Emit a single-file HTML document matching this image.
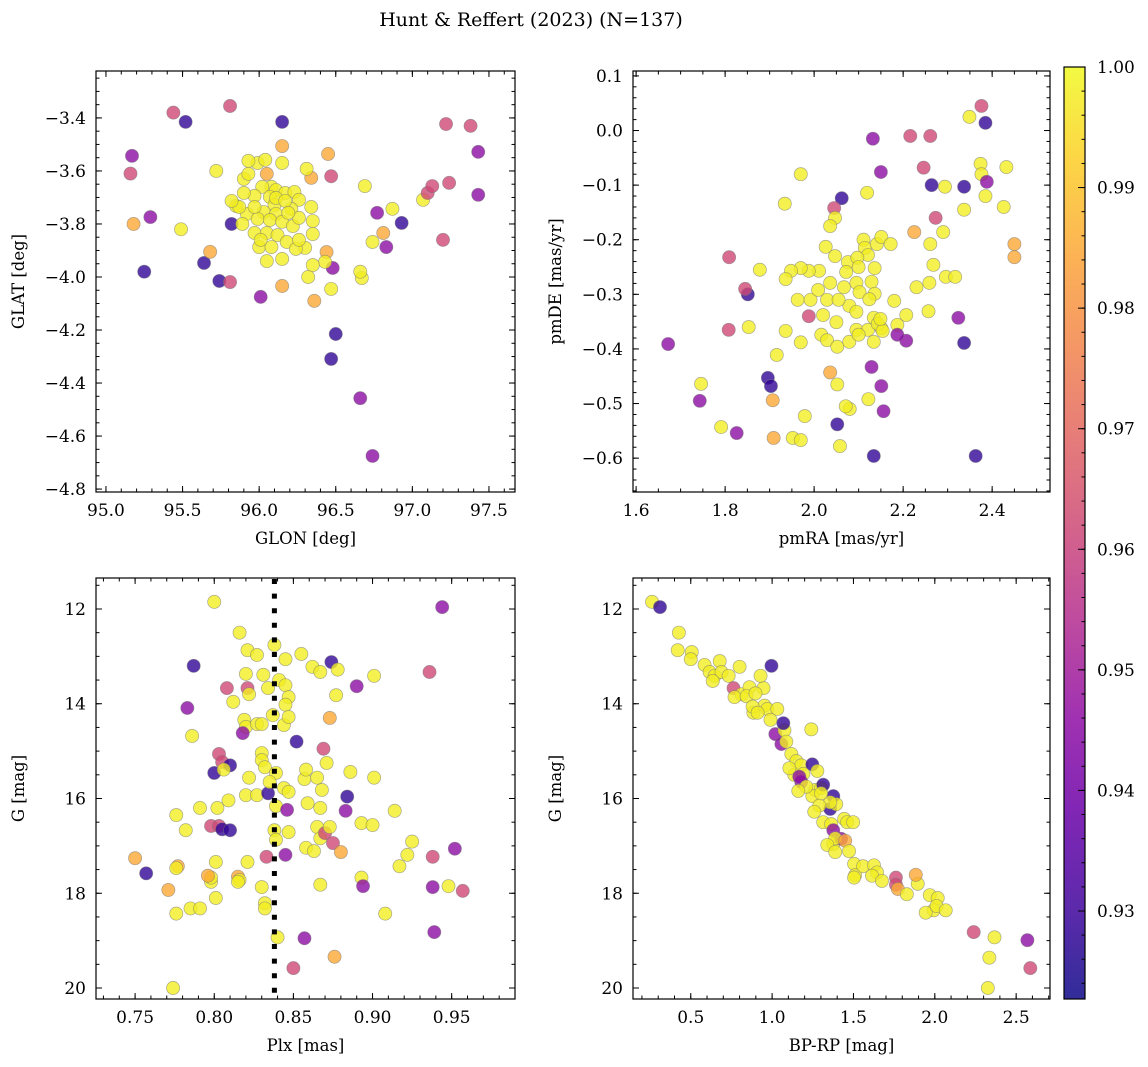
<!DOCTYPE html>
<html><head><meta charset="utf-8">
<style>
html,body{margin:0;padding:0;background:#fff;}
svg{display:block;font-family:"DejaVu Serif","Liberation Serif",serif;}
</style></head>
<body>
<svg id="fig" width="1148" height="1067" viewBox="0 0 1148 1067" xmlns="http://www.w3.org/2000/svg">
<defs>
<linearGradient id="plasma" x1="0" y1="1" x2="0" y2="0">
<stop offset="0" stop-color="#0d0887"/><stop offset="0.1" stop-color="#41049d"/><stop offset="0.2" stop-color="#6a00a8"/><stop offset="0.3" stop-color="#8f0da4"/><stop offset="0.4" stop-color="#b12a90"/><stop offset="0.5" stop-color="#cc4778"/><stop offset="0.6" stop-color="#e16462"/><stop offset="0.7" stop-color="#f2844b"/><stop offset="0.8" stop-color="#fca636"/><stop offset="0.9" stop-color="#fcce25"/><stop offset="1" stop-color="#f0f921"/>
</linearGradient>
</defs>
<text x="531" y="26" text-anchor="middle" font-size="19">Hunt &amp; Reffert (2023) (N=137)</text>
</svg>
<script>
const Y=0.998,O=0.985,K=0.962,P=0.945,D=0.928;
const panel1Points=[[95.44,-3.38,K],[95.52,-3.415,D],[95.17,-3.543,P],[95.16,-3.61,K],[95.18,-3.80,O],[95.29,-3.774,P],[95.25,-3.98,D],[95.49,-3.82,Y],[95.81,-3.355,K],[96.15,-3.415,D],[95.64,-3.947,D],[95.74,-4.015,D],[96.01,-4.075,P],[95.81,-4.019,K],[96.15,-4.034,O],[95.82,-3.80,D],[95.68,-3.905,O],[95.72,-3.60,Y],[96.45,-3.536,O],[96.47,-3.62,K],[96.34,-3.626,O],[96.36,-4.09,O],[96.44,-3.906,O],[96.48,-3.966,P],[96.47,-4.045,Y],[96.43,-3.943,Y],[96.30,-3.89,Y],[96.32,-4.0,Y],[96.50,-4.215,D],[96.47,-4.309,D],[96.66,-4.457,P],[96.74,-4.675,P],[96.69,-3.657,Y],[96.67,-4.004,Y],[96.66,-3.98,Y],[96.74,-3.868,Y],[96.77,-3.758,P],[96.83,-3.887,P],[96.81,-3.834,O],[96.87,-3.743,Y],[96.93,-3.796,D],[97.07,-3.709,Y],[97.10,-3.683,K],[97.13,-3.657,K],[97.22,-3.423,K],[97.24,-3.645,K],[97.20,-3.86,K],[97.38,-3.43,K],[97.43,-3.528,P],[97.43,-3.69,P],[96.05,-3.611,O],[96.15,-3.506,O],
[96.31,-3.592,Y],[96.15,-3.57,Y],[95.99,-3.57,Y],[95.93,-3.562,Y],[96.08,-3.66,Y],[96.11,-3.672,Y],[96.02,-3.66,Y],[95.97,-3.694,Y],[96.07,-3.698,Y],[96.17,-3.683,Y],[96.23,-3.679,Y],[96.26,-3.709,Y],[96.10,-3.728,Y],[96.03,-3.755,Y],[96.11,-3.762,Y],[96.21,-3.743,Y],[96.34,-3.736,Y],[95.90,-3.683,Y],[95.85,-3.732,Y],[95.92,-3.762,Y],[95.99,-3.781,Y],[96.07,-3.785,Y],[96.15,-3.792,Y],[96.22,-3.808,Y],[95.89,-3.80,Y],[95.97,-3.834,Y],[96.05,-3.834,Y],[96.12,-3.842,Y],[96.18,-3.868,Y],[96.00,-3.887,Y],[96.08,-3.887,Y],[96.24,-3.894,Y],[96.35,-3.838,Y],[95.87,-3.736,Y],[95.82,-3.713,Y],[95.97,-3.736,Y],[96.26,-3.777,Y],[96.01,-3.86,Y],[96.11,-3.702,Y],[96.17,-3.713,Y],[96.19,-3.758,Y],[95.90,-3.63,Y],[96.35,-3.789,Y],[96.15,-3.932,Y],[96.05,-3.94,Y],[96.35,-3.955,Y],[96.04,-3.558,Y],[95.93,-3.611,Y],[96.26,-3.86,Y]];
const panel2Points=[[2.376,0.045,K],[2.385,0.014,D],[2.349,0.025,Y],[2.216,-0.01,K],[2.261,-0.01,K],[2.132,-0.015,P],[2.15,-0.076,P],[2.246,-0.068,K],[2.264,-0.1,D],[2.337,-0.103,D],[2.294,-0.103,Y],[2.374,-0.061,Y],[2.376,-0.08,Y],[2.385,-0.12,Y],[2.388,-0.094,P],[2.432,-0.067,Y],[2.426,-0.14,Y],[2.45,-0.208,O],[2.45,-0.232,O],[2.119,-0.114,Y],[2.062,-0.124,D],[2.273,-0.16,K],[2.225,-0.186,O],[2.261,-0.208,Y],[2.268,-0.246,Y],[2.296,-0.268,Y],[2.259,-0.279,Y],[2.257,-0.331,Y],[2.23,-0.287,Y],[2.207,-0.338,Y],[2.187,-0.356,Y],
[1.97,-0.08,Y],[1.934,-0.134,Y],[2.045,-0.142,K],[2.047,-0.16,Y],[2.036,-0.175,Y],[2.026,-0.213,Y],[2.047,-0.23,Y],[2.076,-0.241,Y],[2.111,-0.2,Y],[2.114,-0.215,Y],[2.121,-0.228,Y],[2.141,-0.208,Y],[2.151,-0.195,Y],[2.172,-0.208,Y],[2.097,-0.233,Y],[2.072,-0.259,Y],[2.1,-0.25,Y],[2.136,-0.252,Y],[2.095,-0.279,Y],[2.129,-0.277,Y],[2.011,-0.257,Y],[1.988,-0.257,Y],[1.97,-0.252,Y],[1.948,-0.257,Y],[1.936,-0.272,Y],[1.963,-0.31,Y],[1.992,-0.31,Y],[2.029,-0.31,Y],[2.009,-0.292,Y],[2.036,-0.279,Y],[2.067,-0.287,Y],[2.102,-0.296,Y],[2.136,-0.299,Y],[2.079,-0.321,Y],[2.124,-0.309,Y],[2.055,-0.31,Y],[2.02,-0.338,Y],[2.05,-0.351,Y],[2.016,-0.374,Y],[2.029,-0.384,Y],[2.052,-0.396,Y],[2.079,-0.387,Y],[2.095,-0.365,Y],[2.134,-0.343,Y],[2.121,-0.365,Y],[2.134,-0.387,Y],[2.151,-0.362,Y],[2.143,-0.354,Y],[2.1,-0.374,Y],[2.095,-0.332,Y],[2.154,-0.367,Y],[2.149,-0.345,Y],[2.18,-0.312,Y],
[1.809,-0.232,K],[1.878,-0.255,Y],[1.851,-0.3,D],[1.845,-0.29,K],[1.808,-0.365,K],[1.853,-0.36,Y],[1.916,-0.411,Y],[1.672,-0.391,P],[1.746,-0.464,Y],[1.743,-0.495,P],[1.791,-0.543,Y],[1.896,-0.453,D],[1.903,-0.468,D],[1.907,-0.494,O],[1.909,-0.563,O],[1.826,-0.554,P],[1.979,-0.523,Y],[1.952,-0.563,Y],[1.97,-0.567,Y],[2.052,-0.538,D],[2.058,-0.578,Y],[2.08,-0.51,Y],[2.122,-0.492,Y],[2.129,-0.433,P],[2.156,-0.514,P],[2.134,-0.596,D],[2.151,-0.468,P],[2.207,-0.385,P],[2.187,-0.374,P],[2.324,-0.343,P],[2.337,-0.389,D],[2.363,-0.596,D],[2.317,-0.268,Y],[2.29,-0.186,Y],[2.337,-0.145,Y],[1.97,-0.388,Y],[1.936,-0.367,Y],[1.988,-0.34,K],[2.036,-0.443,O],[2.052,-0.465,Y],[2.071,-0.505,Y]];
const panel3Points=[[0.800,11.85,Y],[0.944,11.96,P],[0.816,12.50,Y],[0.821,12.87,Y],[0.827,12.97,Y],[0.787,13.20,D],[0.845,13.06,Y],[0.855,12.95,Y],[0.874,13.12,D],[0.838,12.76,Y],[0.820,13.37,Y],[0.831,13.39,Y],[0.821,13.67,K],[0.808,13.67,K],[0.822,13.80,Y],[0.841,13.50,Y],[0.834,13.67,Y],[0.845,13.61,Y],[0.847,13.86,Y],[0.862,13.22,Y],[0.867,13.33,Y],[0.878,13.28,Y],[0.901,13.41,Y],[0.877,13.82,Y],[0.936,13.33,K],[0.890,13.63,P],[0.783,14.09,P],[0.786,14.68,Y],[0.812,13.96,Y],[0.819,14.34,Y],[0.820,14.49,Y],[0.827,14.43,Y],[0.830,14.43,Y],[0.818,14.62,P],[0.837,14.24,Y],[0.844,14.45,Y],[0.845,14.02,Y],[0.847,14.28,Y],[0.873,14.30,O],[0.852,14.80,D],[0.830,15.04,Y],[0.830,15.19,Y],[0.832,15.34,Y],[0.803,15.06,K],[0.805,15.23,K],[0.800,15.46,D],[0.810,15.30,D],[0.822,15.56,Y],[0.806,15.39,Y],[0.839,15.46,Y],[0.844,15.78,Y],[0.847,15.86,Y],[0.857,15.59,Y],[0.858,15.39,Y],[0.865,15.56,Y],[0.868,15.82,Y],[0.869,14.95,K],[0.871,15.25,Y],[0.886,15.44,Y],[0.901,15.56,Y],[0.820,15.93,Y],[0.827,15.93,Y],[0.834,15.89,D],[0.835,15.65,Y],[0.809,16.04,Y],[0.802,16.20,Y],[0.791,16.20,Y],[0.776,16.35,Y],[0.782,16.67,Y],[0.798,16.58,K],[0.803,16.58,K],[0.805,16.65,D],[0.810,16.67,D],[0.839,16.16,Y],[0.846,16.24,P],[0.859,16.10,Y],[0.867,16.20,Y],[0.883,16.26,P],[0.893,16.52,Y],[0.900,16.56,Y],[0.914,16.26,Y],[0.884,15.96,D],[0.838,16.67,Y],[0.839,16.87,Y],[0.847,16.71,Y],[0.858,17.04,Y],[0.865,16.60,Y],[0.867,16.84,Y],[0.870,16.73,K],[0.875,16.94,K],[0.880,17.13,O],[0.873,16.60,Y],[0.863,17.11,Y],[0.845,17.19,P],[0.750,17.26,O],[0.757,17.58,D],[0.777,17.43,O],[0.776,17.47,Y],[0.801,17.34,Y],[0.821,17.34,Y],[0.833,17.23,K],[0.917,17.43,Y],[0.922,17.19,Y],[0.925,16.91,Y],[0.938,17.23,K],[0.952,17.06,P],[0.798,17.76,Y],[0.798,17.67,Y],[0.796,17.63,O],[0.815,17.65,O],[0.816,17.72,Y],[0.830,17.87,Y],[0.832,18.21,Y],[0.832,18.32,Y],[0.867,17.82,Y],[0.893,17.67,Y],[0.938,17.87,P],[0.948,17.85,Y],[0.957,17.95,K],[0.771,17.93,O],[0.776,18.43,Y],[0.785,18.32,Y],[0.791,18.32,Y],[0.801,18.10,Y],[0.815,17.76,Y],[0.840,18.93,Y],[0.857,18.95,P],[0.850,19.58,K],[0.876,19.34,O],[0.908,18.43,Y],[0.894,17.85,P],[0.939,18.82,P],[0.774,20.00,Y]];
const panel4Points=[[0.262,11.85,Y],[0.311,11.96,D],[0.427,12.50,Y],[0.420,12.87,Y],[0.506,12.91,Y],[0.5,13.06,Y],[0.585,13.18,Y],[0.678,13.10,Y],[0.616,13.33,Y],[0.647,13.41,Y],[0.689,13.33,Y],[0.800,13.22,Y],[0.635,13.52,Y],[0.733,13.41,Y],[0.763,13.67,K],[0.812,13.80,Y],[0.769,13.86,Y],[0.861,13.65,Y],[0.843,13.84,Y],[0.947,13.67,Y],[0.929,13.41,Y],[0.996,13.20,D],[0.898,13.78,Y],[0.885,14.19,Y],[0.953,14.04,Y],[0.971,14.11,Y],[1.032,14.11,Y],[0.990,14.34,Y],[1.020,14.64,P],[1.076,14.56,Y],[1.057,14.85,P],[1.087,14.80,Y],[1.118,15.06,Y],[1.149,15.21,Y],[1.179,15.30,Y],[1.247,15.28,D],[1.069,14.41,D],[1.136,15.50,Y],[1.192,15.48,Y],[1.179,15.65,P],[1.241,14.54,Y],[1.265,15.82,Y],[1.301,15.78,Y],[1.314,15.71,D],[1.376,15.95,D],[1.357,16.22,D],[1.247,15.95,Y],[1.394,16.12,Y],[1.314,16.50,Y],[1.363,16.54,Y],[1.376,16.67,P],[1.443,16.43,Y],[1.461,16.50,Y],[1.376,16.96,Y],[1.424,16.85,P],[1.388,16.84,Y],[1.498,16.50,Y],[1.339,16.98,Y],[1.388,17.13,Y],[1.449,16.89,O],[1.473,17.11,Y],[1.504,17.38,Y],[1.510,17.62,Y],[1.559,17.43,Y],[1.504,17.67,Y],[1.626,17.41,Y],[1.645,17.56,Y],[1.614,17.63,Y],[1.675,17.74,Y],[1.761,17.67,K],[1.761,17.82,K],[1.773,17.91,O],[1.895,17.80,Y],[1.828,18.02,Y],[1.883,17.61,O],[1.969,18.04,Y],[2.018,18.10,Y],[1.993,18.36,Y],[1.944,18.41,Y],[2.011,18.27,Y],[2.067,18.36,Y],[1.357,16.08,Y],[1.290,16.15,Y],[1.301,15.89,Y],[1.106,15.36,Y],[1.167,15.54,P],[1.210,15.75,Y],[1.278,15.42,Y],[0.880,14.06,Y],[0.911,14.19,Y],[1.161,15.84,Y],[1.259,16.28,Y],[2.239,18.82,K],[2.367,18.93,Y],[2.335,19.36,Y],[2.326,20.00,Y],[2.569,18.99,P],[2.587,19.58,K]];
const plxLine=0.838;
const cbarTicks=[0.93,0.94,0.95,0.96,0.97,0.98,0.99,1.00];
const probMin=0.9227, probMax=1.0;

const svg=document.getElementById('fig');
const NS='http://www.w3.org/2000/svg';
function el(tag,attrs,parent){const e=document.createElementNS(NS,tag);for(const k in attrs)e.setAttribute(k,attrs[k]);(parent||svg).appendChild(e);return e;}
const stops=[[13,8,135],[65,4,157],[106,0,168],[143,13,164],[177,42,144],[204,71,120],[225,100,98],[242,132,75],[252,166,54],[252,206,37],[240,249,33]];
function plasma(t){t=Math.max(0,Math.min(1,t))*10;const i=Math.min(9,Math.floor(t)),f=t-i;const a=stops[i],b=stops[i+1];return 'rgb('+a.map((v,j)=>Math.round(v+(b[j]-v)*f)).join(',')+')';}
function fmt(v,d){return v.toFixed(d).replace('-','\u2212');}

function panel(name,box,xlim,ylim,xMaj,xMin,yMaj,yMin,xd,yd,xlabel,ylabel,pts){
  const [L,T,R,B]=box;
  const sx=v=>L+(v-xlim[0])/(xlim[1]-xlim[0])*(R-L);
  const sy=v=>T+(v-ylim[0])/(ylim[1]-ylim[0])*(B-T);
  const g=el('g',{});
  
  
  const xmin=Math.min(...xlim),xmax=Math.max(...xlim),ymin=Math.min(...ylim),ymax=Math.max(...ylim);
  const tick=(v,major,axis)=>{
    const len=major?6:3.5;
    if(axis==='x'){const x=sx(v);el('line',{x1:x,x2:x,y1:B,y2:B-len,stroke:'#000','stroke-width':1},g);el('line',{x1:x,x2:x,y1:T,y2:T+len,stroke:'#000','stroke-width':1},g);}
    else{const y=sy(v);el('line',{x1:L,x2:L+len,y1:y,y2:y,stroke:'#000','stroke-width':1},g);el('line',{x1:R,x2:R-len,y1:y,y2:y,stroke:'#000','stroke-width':1},g);}
  };
  for(let k=Math.ceil(xmin/xMin-1e-6);k*xMin<=xmax+1e-9;k++)tick(k*xMin,false,'x');
  for(let k=Math.ceil(ymin/yMin-1e-6);k*yMin<=ymax+1e-9;k++)tick(k*yMin,false,'y');
  for(let k=Math.ceil(xmin/xMaj-1e-6);k*xMaj<=xmax+1e-9;k++){const v=k*xMaj;tick(v,true,'x');
    const t=el('text',{x:sx(v),y:B+24,'text-anchor':'middle','font-size':17},g);t.textContent=fmt(v,xd);
    
    }
  for(let k=Math.ceil(ymin/yMaj-1e-6);k*yMaj<=ymax+1e-9;k++){const v=k*yMaj;tick(v,true,'y');
    const t=el('text',{x:L-10,y:sy(v)+6,'text-anchor':'end','font-size':17},g);t.textContent=fmt(v,yd);
    
    }
  const mg=el('g',{},g);
  
  
  pts.forEach(p=>{
    const c=el('circle',{cx:sx(p[0]),cy:sy(p[1]),r:6.6,fill:plasma((p[2]-probMin)/(probMax-probMin)),'fill-opacity':0.8,stroke:'#777','stroke-opacity':0.6,'stroke-width':0.7},mg);
    
    
  });
  const fr=el('rect',{x:L,y:T,width:R-L,height:B-T,fill:'none',stroke:'#000','stroke-width':1.2},g);
  
  
  const xl=el('text',{x:(L+R)/2,y:B+52,'text-anchor':'middle','font-size':16.5},g);xl.textContent=xlabel;
  
  
  const ylx=L-72;
  const yl=el('text',{x:ylx,y:(T+B)/2,'text-anchor':'middle','font-size':16.5,transform:'rotate(-90 '+ylx+' '+(T+B)/2+')'},g);yl.textContent=ylabel;
  
  
  return {sx,sy,g};
}
panel('panel-position',[96,71,515,492],[94.935,97.67],[-3.223,-4.811],0.5,0.1,0.2,0.05,1,1,'GLON [deg]','GLAT [deg]',panel1Points);
panel('panel-proper-motion',[633,71,1050,492],[1.593,2.530],[0.109,-0.662],0.2,0.05,0.1,0.02,1,1,'pmRA [mas/yr]','pmDE [mas/yr]',panel2Points);
const p3=panel('panel-parallax',[96,578,515,999],[0.7253,0.990],[11.346,20.232],0.05,0.01,2,0.5,2,0,'Plx [mas]','G [mag]',panel3Points);
panel('panel-cmd',[633,578,1050,999],[0.145,2.708],[11.346,20.232],0.5,0.1,2,0.5,1,0,'BP-RP [mag]','G [mag]',panel4Points);
const dl=el('line',{x1:p3.sx(plxLine),x2:p3.sx(plxLine),y1:579,y2:998,stroke:'#000','stroke-width':5,'stroke-dasharray':'5 9.6'});



const cb=el('g',{});


const cT=67,cB=999,cL=1064,cR=1085;
const cy=v=>cB-(v-probMin)/(probMax-probMin)*(cB-cT);
el('rect',{x:cL,y:cT,width:cR-cL,height:cB-cT,fill:'url(#plasma)','fill-opacity':0.85},cb);
for(let k=Math.ceil(probMin/0.002);k*0.002<=probMax+1e-9;k++){const y=cy(k*0.002);el('line',{x1:cR,x2:cR-3.5,y1:y,y2:y,stroke:'#000','stroke-width':1},cb);}
cbarTicks.forEach(v=>{const y=cy(v);el('line',{x1:cR,x2:cR-7,y1:y,y2:y,stroke:'#000','stroke-width':1},cb);
  const t=el('text',{x:cR+12,y:y+6,'font-size':17},cb);t.textContent=v.toFixed(2);
  
  });
el('rect',{x:cL,y:cT,width:cR-cL,height:cB-cT,fill:'none',stroke:'#000','stroke-width':1.2},cb);
</script>
</body></html>
